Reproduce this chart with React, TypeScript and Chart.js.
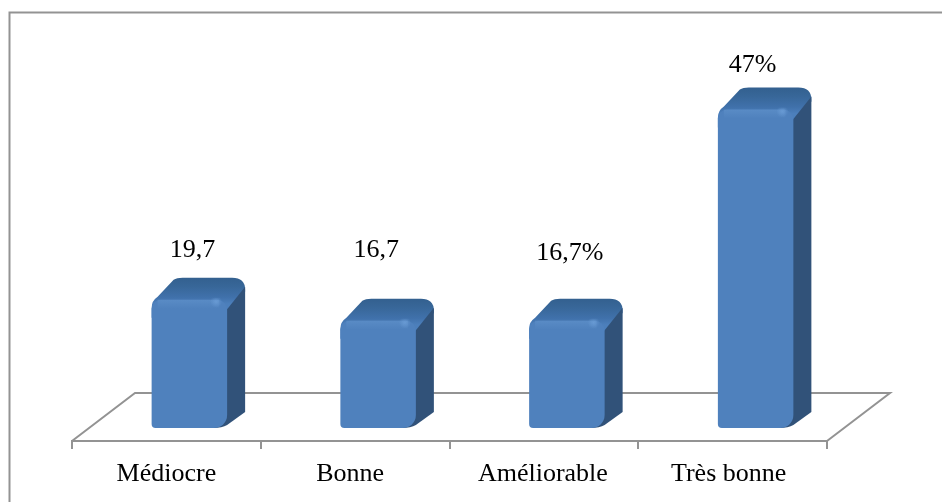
import React, { useEffect, useRef } from "react";
import { Chart, registerables } from "chart.js";

Chart.register(...registerables);

const categories = ["Médiocre", "Bonne", "Améliorable", "Très bonne"];
const percentages = [19.7, 16.7, 16.7, 47];
const valueLabels = ["19,7", "16,7", "16,7%", "47%"];

// Hand placement of the annotations around each column, in px
const categoryNudgeX = [0, -5, -1, -4];
const valueNudge: [number, number][] = [[3, -21], [-2, -42], [3, -39], [-3, -16]];

const SERIF = '"Liberation Serif", "Times New Roman", serif';
const GREY = "#939393";
// Shift from the front floor edge to the plane the columns stand on
const SHIFT_X = 23;
const SHIFT_Y = -4;
// Extrusion of each column
const DEPTH_X = 18;
const DEPTH_Y = 22;
const BASE_VALUE = 1.3;

function frontGradient(ctx: CanvasRenderingContext2D, left: number, right: number) {
  const g = ctx.createLinearGradient(left, 0, right, 0);
  g.addColorStop(0, "#3a69a2");
  g.addColorStop(0.07, "#4a7ab5");
  g.addColorStop(0.5, "#4f80bb");
  g.addColorStop(0.82, "#5587c4");
  g.addColorStop(0.92, "#4a7bb6");
  g.addColorStop(1, "#3b6aa1");
  return g;
}

const stage = {
  id: "stage",
  beforeDatasetsDraw(chart: any) {
    const { ctx, chartArea } = chart;
    const { left, right, bottom } = chartArea;
    const floorBack = bottom - 48;
    ctx.save();
    ctx.strokeStyle = GREY;
    ctx.lineWidth = 2;
    // Outer frame: only its top and left edges fall on the page
    ctx.beginPath();
    ctx.moveTo(9.5, 502);
    ctx.lineTo(9.5, 12.5);
    ctx.lineTo(942, 12.5);
    ctx.stroke();
    // Floor of the plot
    ctx.beginPath();
    ctx.moveTo(left, bottom);
    ctx.lineTo(left + 63, floorBack);
    ctx.lineTo(right + 63, floorBack);
    ctx.lineTo(right, bottom);
    ctx.stroke();
    ctx.restore();

    // Everything the bars draw sits on the raised plane
    ctx.save();
    ctx.translate(SHIFT_X, SHIFT_Y);
    const meta = chart.getDatasetMeta(0);
    meta.data.forEach((bar: any) => {
      const l = bar.x - bar.width / 2;
      const r = bar.x + bar.width / 2;
      const top = bar.y;
      const base = bar.base;
      // Top face, running down behind the upper corner of the side
      const capGrad = ctx.createLinearGradient(0, top - DEPTH_Y, 0, top + 4);
      capGrad.addColorStop(0, "#33608f");
      capGrad.addColorStop(0.35, "#386799");
      capGrad.addColorStop(0.75, "#4071ab");
      capGrad.addColorStop(1, "#4c7fbb");
      ctx.fillStyle = capGrad;
      ctx.beginPath();
      ctx.moveTo(l, top + 8);
      ctx.quadraticCurveTo(l, top + 1, l + 6, top - 3);
      ctx.lineTo(l + 22, top - DEPTH_Y + 2);
      ctx.quadraticCurveTo(l + 25, top - DEPTH_Y, l + 31, top - DEPTH_Y);
      ctx.lineTo(r + 5, top - DEPTH_Y);
      ctx.quadraticCurveTo(r + DEPTH_X, top - DEPTH_Y, r + DEPTH_X, top - DEPTH_Y + 12);
      ctx.lineTo(r + DEPTH_X, top - 8);
      ctx.lineTo(r, top + 18);
      ctx.lineTo(l, top + 18);
      ctx.closePath();
      ctx.fill();
      // Right-hand face
      ctx.fillStyle = "#315279";
      ctx.beginPath();
      ctx.moveTo(r - 14, base);
      ctx.quadraticCurveTo(r - 5, base, r, base - 3);
      ctx.lineTo(r + DEPTH_X, base - 16);
      ctx.lineTo(r + DEPTH_X, top - 13);
      ctx.lineTo(r - 2, top + 12);
      ctx.closePath();
      ctx.fill();
    });
  },
  afterDatasetsDraw(chart: any) {
    const { ctx, scales } = chart;
    const meta = chart.getDatasetMeta(0);
    // Bevel along the top of each front face, with a faint glint at its right end
    meta.data.forEach((bar: any) => {
      const l = bar.x - bar.width / 2;
      const r = bar.x + bar.width / 2;
      const g = ctx.createLinearGradient(0, bar.y, 0, bar.y + 9);
      g.addColorStop(0, "rgba(105,155,210,0.4)");
      g.addColorStop(1, "rgba(105,155,210,0)");
      ctx.fillStyle = g;
      ctx.fillRect(l + 6, bar.y, bar.width - 14, 9);
      const glint = ctx.createRadialGradient(r - 11, bar.y + 2, 0, r - 11, bar.y + 2, 6);
      glint.addColorStop(0, "rgba(115,165,222,0.6)");
      glint.addColorStop(1, "rgba(115,165,222,0)");
      ctx.fillStyle = glint;
      ctx.fillRect(r - 17, bar.y - 2, 12, 10);
    });
    ctx.restore();

    ctx.save();
    ctx.fillStyle = "#000";
    ctx.font = `26px ${SERIF}`;
    ctx.textAlign = "center";
    ctx.textBaseline = "alphabetic";
    categories.forEach((name, i) => {
      ctx.fillText(name, scales.x.getPixelForTick(i) + categoryNudgeX[i], 481);
    });
    meta.data.forEach((bar: any, i: number) => {
      const [dx, dy] = valueNudge[i];
      ctx.fillText(valueLabels[i], bar.x + SHIFT_X + dx, bar.y + SHIFT_Y + dy - DEPTH_Y);
    });
    ctx.restore();
  },
};

export default function App() {
  const ref = useRef<HTMLCanvasElement>(null);
  useEffect(() => {
    const chart = new Chart(ref.current!, {
      type: "bar",
      data: {
        labels: categories,
        datasets: [
          {
            data: percentages,
            base: BASE_VALUE,
            barPercentage: 0.4,
            categoryPercentage: 1,
            borderRadius: { topLeft: 9, topRight: 10, bottomLeft: 4, bottomRight: 13 },
            borderSkipped: false,
            backgroundColor: (c: any) => {
              const el = c.element;
              if (!el || !Number.isFinite(el.x)) return "#4f81bd";
              return frontGradient(c.chart.ctx, el.x - el.width / 2, el.x + el.width / 2);
            },
          },
        ],
      },
      options: {
        animation: false,
        responsive: false,
        layout: { padding: { left: 72, right: 115, top: 23, bottom: 0 } },
        plugins: { legend: { display: false }, tooltip: { enabled: false } },
        scales: {
          y: { display: false, min: 0, max: 60 },
          x: {
            afterFit: (s: any) => {
              s.height = 61;
            },
            ticks: { display: false },
            border: { display: true, color: GREY, width: 2 },
            grid: {
              drawOnChartArea: false,
              drawTicks: true,
              tickLength: 8,
              color: GREY,
              lineWidth: 2,
            },
          },
        },
      },
      plugins: [stage],
    } as any);
    return () => chart.destroy();
  }, []);
  return (
    <div style={{ position: "absolute", left: 0, top: 0, width: 942, height: 502, background: "#fff" }}>
      <canvas ref={ref} width={942} height={502} style={{ display: "block" }} />
    </div>
  );
}
